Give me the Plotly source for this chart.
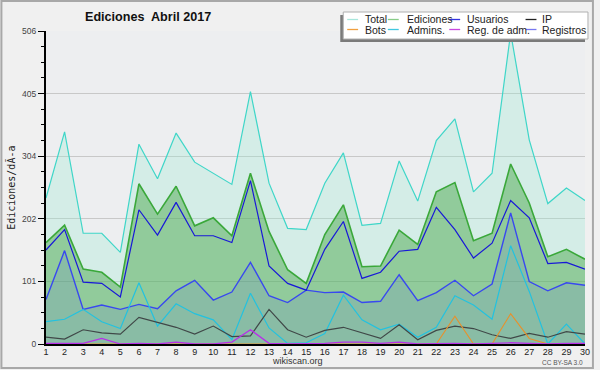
import plotly.graph_objects as go

# ---------------- data ----------------
days = list(range(1, 31))
total = [236, 343, 179, 179, 148, 323, 267, 341, 294, 276, 258, 408, 260, 187, 185,
         260, 309, 192, 195, 296, 231, 329, 364, 246, 276, 503, 330, 227, 252, 232]
ediciones = [164, 192, 121, 116, 92, 259, 210, 255, 191, 204, 175, 276, 182, 120, 98,
             177, 225, 125, 126, 184, 161, 246, 261, 167, 179, 291, 228, 141, 153, 137]
usuarios = [152, 185, 100, 98, 76, 217, 176, 229, 175, 175, 164, 264, 126, 98, 87,
            153, 198, 106, 116, 150, 153, 221, 185, 139, 163, 232, 204, 130, 132, 121]
ip = [11, 8, 23, 18, 16, 43, 35, 27, 16, 29, 12, 13, 56, 23, 11,
      22, 27, 18, 9, 31, 7, 22, 29, 25, 15, 9, 17, 11, 20, 16]
bots = [0, 0, 0, 0, 0, 0, 0, 0, 0, 0, 0, 0, 0, 0, 0,
        0, 0, 0, 0, 0, 0, 0, 45, 0, 0, 49, 9, 0, 0, 0]
admins = [36, 40, 56, 36, 25, 99, 29, 65, 49, 39, 7, 82, 26, 1, 2,
          17, 79, 39, 23, 32, 11, 27, 78, 63, 40, 159, 85, 0, 32, 0]
reg_adm = [1, 1, 1, 9, 0, 1, 0, 3, 0, 0, 3, 23, 1, 0, 0,
           1, 3, 3, 1, 3, 0, 1, 1, 0, 1, 2, 1, 0, 1, 1]
registros = [72, 151, 56, 63, 56, 64, 57, 86, 103, 71, 84, 132, 78, 67, 87,
             83, 84, 67, 69, 112, 70, 83, 103, 78, 97, 212, 101, 86, 99, 95]

y_max = 506
y_tick_labels = ["0", "101", "202", "304", "405", "506"]
legend_names = ["Total", "Ediciones", "Usuarios", "IP",
                "Bots", "Admins.", "Reg. de adm.", "Registros"]
legend_colors = ["#a8e6dc", "#88cc88", "#3434e0", "#222222",
                 "#f0a040", "#40c8e0", "#c848e0", "#7878f0"]

# ---------------- geometry helpers ----------------
W, H = 600, 370
L, R, T, B = 46, 10, 31, 26
PW, PH = W - L - R, H - T - B


def px(x):
    return (x - L) / PW


def py(y):
    return (H - B - y) / PH


fig = go.Figure()

fig.add_trace(go.Scatter(x=days, y=total, mode="lines", fill="tozeroy",
                         fillcolor="rgba(160,235,210,0.32)",
                         line=dict(color="#3fd6c8", width=1.2), name="Total"))
fig.add_trace(go.Scatter(x=days, y=ediciones, mode="lines", fill="tozeroy",
                         fillcolor="rgba(60,160,60,0.44)",
                         line=dict(color="#3aa83a", width=1.6), name="Ediciones"))
fig.add_trace(go.Scatter(x=days, y=registros, mode="lines", fill="tozeroy",
                         fillcolor="rgba(90,100,230,0.14)",
                         line=dict(color="#3848f0", width=1.4), name="Registros"))
fig.add_trace(go.Scatter(x=days, y=usuarios, mode="lines",
                         line=dict(color="#1818d8", width=1.2), name="Usuarios"))
fig.add_trace(go.Scatter(x=days, y=admins, mode="lines",
                         line=dict(color="#22c2e0", width=1.2), name="Admins."))
fig.add_trace(go.Scatter(x=days, y=ip, mode="lines",
                         line=dict(color="#404848", width=1.2), name="IP"))
fig.add_trace(go.Scatter(x=days, y=bots, mode="lines",
                         line=dict(color="#e8902a", width=1.1), name="Bots"))
fig.add_trace(go.Scatter(x=days, y=reg_adm, mode="lines",
                         line=dict(color="#b830e8", width=1.3), name="Reg. de adm."))

tickvals = [y_max * i / (len(y_tick_labels) - 1) for i in range(len(y_tick_labels))]
minor_vals = [y_max * i / 20 for i in range(21) if i % 4 != 0]

shapes = []
annotations = []

# outer border
shapes.append(dict(type="rect", xref="paper", yref="paper",
                   x0=px(1), x1=px(598), y0=py(368), y1=py(1),
                   line=dict(color="#a8a8a8", width=2), fillcolor="rgba(0,0,0,0)"))
# legend box (shadow + white box)
shapes.append(dict(type="rect", xref="paper", yref="paper",
                   x0=px(343), x1=px(590), y0=py(42), y1=py(15),
                   line=dict(width=0), fillcolor="#7a7a7a"))
shapes.append(dict(type="rect", xref="paper", yref="paper",
                   x0=px(346), x1=px(593), y0=py(39), y1=py(12),
                   line=dict(color="#b0b0b0", width=1), fillcolor="#ffffff"))

col_line_x = [350, 391, 453, 530]
col_text_x = [366, 408, 469, 545]
row_y = [19.5, 29.5]
for i, (nm, col) in enumerate(zip(legend_names, legend_colors)):
    c, r = i % 4, i // 4
    shapes.append(dict(type="line", xref="paper", yref="paper",
                       x0=px(col_line_x[c]), x1=px(col_line_x[c] + 11),
                       y0=py(row_y[r]), y1=py(row_y[r]),
                       line=dict(color=col, width=1.3)))
    annotations.append(dict(text=nm, xref="paper", yref="paper",
                            x=px(col_text_x[c]), y=py(row_y[r]),
                            xanchor="left", yanchor="middle", showarrow=False,
                            font=dict(family="Liberation Sans", size=10.5, color="#222222")))

annotations.append(dict(text="<b>Ediciones\u00a0 Abril 2017</b>", xref="paper", yref="paper",
                        x=px(148.5), y=py(17), xanchor="center", yanchor="middle",
                        showarrow=False,
                        font=dict(family="Liberation Sans", size=12.6, color="#111111")))
annotations.append(dict(text="Ediciones/dÃ-a", xref="paper", yref="paper",
                        x=px(10), y=py(187.5), xanchor="center", yanchor="middle",
                        textangle=-90, showarrow=False,
                        font=dict(family="DejaVu Sans Mono", size=10, color="#222222")))
annotations.append(dict(text="wikiscan.org", xref="paper", yref="paper",
                        x=px(299.5), y=py(361.5), xanchor="center", yanchor="middle",
                        showarrow=False,
                        font=dict(family="Liberation Sans", size=9, color="#333333")))
annotations.append(dict(text="CC BY-SA 3.0", xref="paper", yref="paper",
                        x=px(590), y=py(362.5), xanchor="right", yanchor="middle",
                        showarrow=False,
                        font=dict(family="Liberation Sans", size=6.5, color="#555555")))

fig.update_layout(
    width=W, height=H,
    margin=dict(l=L, r=R, t=T, b=B, pad=0),
    paper_bgcolor="#f0f0f0", plot_bgcolor="#edeef0",
    showlegend=False,
    shapes=shapes, annotations=annotations,
    xaxis=dict(range=[1, 30], tickmode="array", tickvals=days,
               ticktext=[str(d) for d in days],
               showgrid=False, zeroline=False,
               showline=True, linecolor="#000000", linewidth=2,
               ticks="", ticklabelstandoff=-2,
               tickfont=dict(family="Liberation Sans", size=9, color="#222222")),
    yaxis=dict(range=[0, y_max], tickmode="array", tickvals=tickvals,
               ticktext=y_tick_labels,
               showgrid=True, gridcolor="#c8c8c8", gridwidth=1,
               zeroline=False,
               showline=True, linecolor="#000000", linewidth=2,
               ticks="outside", ticklen=6, tickcolor="#000000",
               tickfont=dict(family="Liberation Sans", size=8.5, color="#444444"),
               minor=dict(tickmode="array", tickvals=minor_vals, ticks="outside",
                          ticklen=3, tickcolor="#000000", showgrid=False)),
)

fig.write_html("out.html", config={"displayModeBar": False},
               post_script="document.body.style.margin='0';document.body.style.padding='0';")
